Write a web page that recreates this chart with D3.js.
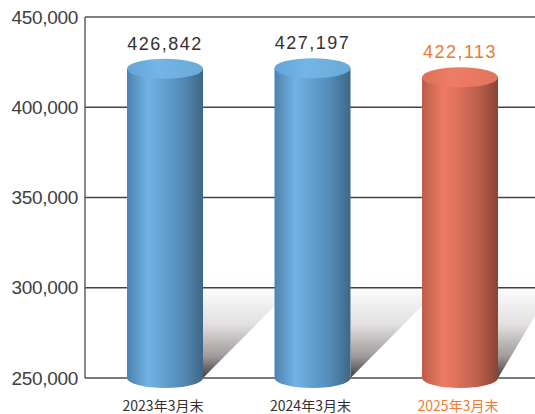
<!DOCTYPE html>
<html><head><meta charset="utf-8">
<script src="https://cdn.jsdelivr.net/npm/d3@7"></script>
<style>
html,body{margin:0;padding:0;background:#fff;}
svg{display:block;}
</style></head>
<body>
<svg id="chart" width="535" height="414"></svg>
<script>
const categories = ["2023年3月末", "2024年3月末", "2025年3月末"];
const values = [426842, 427197, 422113];
const valueLabels = ["426,842", "427,197", "422,113"];
const tickValues = [250000, 300000, 350000, 400000, 450000];
const tickLabels = ["250,000", "300,000", "350,000", "400,000", "450,000"];
const highlight = [false, false, true];

const svg = d3.select("#chart");
const plotLeft = 85, plotRight = 535, plotTop = 17, plotBottom = 378;

const y = d3.scaleLinear().domain([250000, 450000]).range([plotBottom, plotTop]);
const x = d3.scaleBand().domain(categories).range([91.25, 533.75]).padding(0);
const barW = 76, rx = 38, ry = 10;
const cx = c => x(c) + x.bandwidth() / 2;

const defs = svg.append("defs");
function hGrad(id, stops) {
  const g = defs.append("linearGradient").attr("id", id).attr("x1", "0%").attr("x2", "100%").attr("y1", "0%").attr("y2", "0%");
  stops.forEach(s => g.append("stop").attr("offset", s[0]).attr("stop-color", s[1]));
}
hGrad("bodyBlue", [["0%", "#4c82b1"], ["28%", "#72b3e3"], ["45%", "#64a3d3"], ["75%", "#5289b4"], ["100%", "#3f6686"]]);
hGrad("bodyRed", [["0%", "#bc5d49"], ["28%", "#ee7b65"], ["45%", "#e1725d"], ["75%", "#b95d4b"], ["100%", "#8a4333"]]);
hGrad("topBlue", [["0%", "#63a3d6"], ["40%", "#74b5e5"], ["100%", "#6aaad9"]]);
hGrad("topRed", [["0%", "#e06e58"], ["40%", "#ee7d67"], ["100%", "#e4735d"]]);

const sg = defs.append("linearGradient").attr("id", "shadowGrad")
  .attr("gradientUnits", "userSpaceOnUse").attr("x1", 0).attr("x2", 0).attr("y1", 270).attr("y2", plotBottom);
[["0", "#ffffff", 0], ["0.2", "#fafafa", 1], ["0.5", "#e2e0e0", 1], ["0.8", "#a09a9a", 1], ["1", "#453b3b", 1]]
  .forEach(s => sg.append("stop").attr("offset", s[0]).attr("stop-color", s[1]).attr("stop-opacity", s[2]));

// shadows
categories.forEach((c, i) => {
  const xr = cx(c) + rx;
  const xEnd = i < categories.length - 1 ? cx(categories[i + 1]) - rx : plotRight;
  const yDiag = i < categories.length - 1 ? 306 : 316;
  svg.append("polygon")
    .attr("points", [[xr, 270], [xEnd, 270], [xEnd, yDiag], [xr, plotBottom]].map(p => p.join(",")).join(" "))
    .attr("fill", "url(#shadowGrad)");
});

// gridlines
const gridVals = tickValues.filter(v => v !== 250000);
svg.selectAll("line.grid").data(gridVals).enter().append("line")
  .attr("x1", plotLeft).attr("x2", plotRight)
  .attr("y1", d => y(d)).attr("y2", d => y(d))
  .attr("stroke", d => d === 450000 ? "#5a5454" : "#4a4242").attr("stroke-width", 1.4);
svg.append("line").attr("x1", plotLeft).attr("x2", plotRight)
  .attr("y1", y(250000)).attr("y2", y(250000))
  .attr("stroke", "#7d7878").attr("stroke-width", 2);
svg.append("line").attr("x1", plotLeft).attr("x2", plotLeft)
  .attr("y1", plotTop).attr("y2", plotBottom)
  .attr("stroke", "#5a5454").attr("stroke-width", 1.4);

// axis labels
const yAxis = d3.axisLeft(y).tickValues(tickValues).tickSize(0).tickPadding(7)
  .tickFormat((d, i) => tickLabels[i]);
const ga = svg.append("g").attr("transform", `translate(${plotLeft},0)`).call(yAxis);
ga.select(".domain").remove();
ga.selectAll("text").attr("font-family", "'Liberation Sans', Arial, sans-serif")
  .attr("font-size", 19).attr("fill", "#433d3d").attr("letter-spacing", "-0.3");

// cylinders
categories.forEach((c, i) => {
  const cxx = cx(c);
  const topC = y(values[i]) + ry;
  const body = highlight[i] ? "url(#bodyRed)" : "url(#bodyBlue)";
  const top = highlight[i] ? "url(#topRed)" : "url(#topBlue)";
  svg.append("ellipse").attr("cx", cxx).attr("cy", plotBottom).attr("rx", rx).attr("ry", ry).attr("fill", body);
  svg.append("rect").attr("x", cxx - rx).attr("y", topC).attr("width", barW).attr("height", plotBottom - topC).attr("fill", body);
  svg.append("ellipse").attr("cx", cxx).attr("cy", topC).attr("rx", rx).attr("ry", ry).attr("fill", top);
  svg.append("text").attr("x", cxx).attr("y", y(values[i]) - 9)
    .attr("text-anchor", "middle")
    .attr("font-family", "'Liberation Sans', Arial, sans-serif").attr("font-size", 18)
    .attr("letter-spacing", "1.5")
    .attr("fill", highlight[i] ? "#ec7a2e" : "#363030")
    .text(valueLabels[i]);
  svg.append("text").attr("x", cxx - 2).attr("y", 411)
    .attr("text-anchor", "middle")
    .attr("font-family", "'Noto Sans CJK JP', 'Liberation Sans', sans-serif").attr("font-size", 14)
    .attr("fill", highlight[i] ? "#ee7d34" : "#363030")
    .text(categories[i]);
});
</script>
</body></html>
